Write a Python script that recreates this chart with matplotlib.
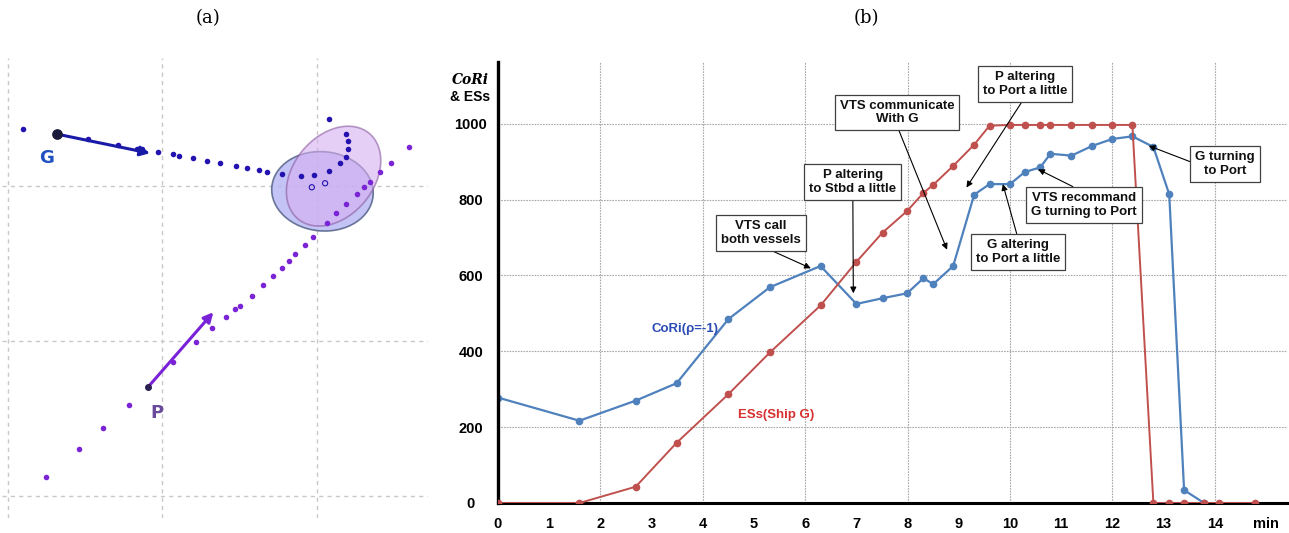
import matplotlib
matplotlib.use("Agg")
import matplotlib.pyplot as plt
from matplotlib.patches import Ellipse

# ---- panel (b): CoRi and ESs of ship G over time ----
minutes = [0, 1.59, 2.69, 3.49, 4.50, 5.31, 6.30, 7.00, 7.51, 7.99, 8.31, 8.50, 8.89, 9.30,
           9.60, 10.00, 10.29, 10.59, 10.79, 11.20, 11.61, 12.00, 12.39, 12.80, 13.11,
           13.40, 13.79, 14.09, 14.79]
cori = [278, 217, 270, 316, 485, 569, 625, 525, 540, 553, 593, 577, 625, 813,
        841, 841, 873, 885, 921, 916, 942, 960, 967, 939, 814,
        34, 0, 0, 0]
ess = [0, 0, 43, 159, 287, 397, 521, 636, 713, 770, 818, 839, 889, 945,
       995, 997, 997, 997, 997, 997, 997, 997, 997, 0, 0,
       0, 0, 0, 0]
x_labels = [str(i) for i in range(15)] + ['min']
y_ticks = [0, 200, 400, 600, 800, 1000]

# text, arrow target (min, value), box centre (min, value), arrow start on box
notes = [
    ("VTS call\nboth vessels", (6.11, 619), (5.14, 712), (0.5, 0)),
    ("P altering\nto Stbd a little", (6.94, 553), (6.93, 847), (0.5, 0)),
    ("VTS communicate\nWith G", (8.77, 668), (7.79, 1030), (0.5, 0)),
    ("P altering\nto Port a little", (9.15, 832), (10.29, 1104), (0.5, 0)),
    ("G altering\nto Port a little", (9.86, 841), (10.16, 662), (0.5, 1)),
    ("VTS recommand\nG turning to Port", (10.55, 880), (11.44, 786), (0.5, 1)),
    ("G turning\nto Port", (12.71, 942), (14.20, 895), (0, 0.5)),
]

# ---- panel (a): tracks in grid units ----
g_x = [0.101, 0.518, 0.716, 0.835, 0.867, 0.975, 1.068, 1.109, 1.197, 1.292, 1.374, 1.478,
       1.551, 1.628, 1.680, 1.773, 1.896, 1.984, 2.080, 2.151, 2.188, 2.205, 2.201, 2.188, 2.082]
g_y = [2.368, 2.302, 2.265, 2.240, 2.240, 2.222, 2.205, 2.194, 2.180, 2.164, 2.147, 2.132,
       2.119, 2.104, 2.093, 2.078, 2.067, 2.072, 2.099, 2.147, 2.190, 2.238, 2.293, 2.337, 2.434]
p_x = [0.248, 0.461, 0.619, 0.785, 1.068, 1.217, 1.322, 1.413, 1.473, 1.504, 1.579, 1.652,
       1.715, 1.773, 1.819, 1.860, 1.924, 1.978, 2.065, 2.125, 2.190, 2.259, 2.306, 2.345,
       2.412, 2.479, 2.595]
p_y = [0.123, 0.302, 0.439, 0.588, 0.862, 0.991, 1.081, 1.156, 1.204, 1.225, 1.290, 1.359,
       1.419, 1.473, 1.518, 1.559, 1.620, 1.673, 1.760, 1.824, 1.884, 1.949, 1.992, 2.028,
       2.089, 2.147, 2.251]
ship_g = (0.321, 2.335)
ship_g_head = (0.921, 2.212)
ship_p = (0.910, 0.704)
ship_p_head = (1.331, 1.185)
cpa_x = [1.968, 2.054]
cpa_y = [1.992, 2.018]

G_COL = '#2311b0'
P_COL = '#7a24d6'

fig = plt.figure(figsize=(12.89, 5.33), dpi=100)


def fx(px):
    return px / 1289


def fy(py):
    return 1 - py / 533


# ================= (a) =================
axa = fig.add_axes([fx(2), fy(518), fx(426), 460 / 533])
axa.set_xlim(-0.037, 2.72)
axa.set_ylim(-0.144, 2.827)
for s in axa.spines.values():
    s.set_visible(False)
axa.set_xticks([])
axa.set_yticks([])
for v in [0, 1, 2]:
    axa.axvline(v, color='#c8c8c8', lw=1, ls=(0, (3, 3)), zorder=0)
    axa.axhline(v, color='#c8c8c8', lw=1, ls=(0, (3, 3)), zorder=0)

axa.add_patch(Ellipse((2.037, 1.966), 0.658, 0.512, angle=-5,
                      facecolor='#b4b4f4', edgecolor='#4a5a80', lw=1.2, alpha=0.8, zorder=1))
axa.add_patch(Ellipse((2.109, 2.064), 0.72, 0.52, angle=50,
                      facecolor='#d6b0f0', edgecolor='#8a5aa0', lw=1.2, alpha=0.6, zorder=2))

axa.scatter(g_x, g_y, s=16, color=G_COL, zorder=3, linewidths=0)
axa.scatter(p_x, p_y, s=16, color=P_COL, zorder=3, linewidths=0)
axa.scatter(cpa_x, cpa_y, s=14, facecolors='none', edgecolors=G_COL, lw=0.8, zorder=4)

axa.annotate('', xy=ship_g_head, xytext=ship_g,
             arrowprops=dict(arrowstyle='-|>', color='#1a1aa8', lw=2.2,
                             mutation_scale=14, shrinkA=0, shrinkB=0), zorder=5)
axa.annotate('', xy=ship_p_head, xytext=ship_p,
             arrowprops=dict(arrowstyle='-|>', color='#7a22d8', lw=2.2,
                             mutation_scale=14, shrinkA=0, shrinkB=0), zorder=5)
axa.scatter([ship_g[0]], [ship_g[1]], s=45, color='#1a1a3a', zorder=6)
axa.scatter([ship_p[0]], [ship_p[1]], s=16, color='#2a1f50', zorder=6)
axa.text(0.25, 2.18, 'G', color='#2050c0', fontsize=13, fontweight='bold',
         ha='center', va='center', family='DejaVu Sans')
axa.text(0.965, 0.535, 'P', color='#6a4a9a', fontsize=13, fontweight='bold',
         ha='center', va='center', family='DejaVu Sans')

# ================= (b) =================
axb = fig.add_axes([fx(498), fy(503), fx(1287 - 498), (503 - 62) / 533])
axb.set_xlim(0, 15.41)
axb.set_ylim(0, 1163)
for side in ['top', 'right']:
    axb.spines[side].set_visible(False)
axb.spines['left'].set_linewidth(2.4)
axb.spines['bottom'].set_linewidth(2.2)

for v in range(2, 15, 2):
    axb.axvline(v, color='#a8a8a8', lw=0.8, ls=(0, (1.5, 1)), zorder=0)
for v in y_ticks[1:]:
    axb.axhline(v, color='#a8a8a8', lw=0.8, ls=(0, (1.5, 1)), zorder=0)

axb.plot(minutes, ess, '-o', color='#c0504d', lw=1.4, ms=4.5, zorder=3)
axb.plot(minutes[:27], cori[:27], '-o', color='#4f81bd', lw=1.6, ms=4.5, zorder=2)

axb.set_xticks(range(16))
axb.set_xticklabels(x_labels, fontsize=10.5, fontweight='bold', family='Liberation Sans')
axb.set_yticks(y_ticks)
axb.set_yticklabels([str(v) for v in y_ticks], fontsize=10.5, fontweight='bold',
                    family='Liberation Sans')
axb.tick_params(axis='x', length=0, pad=10)
axb.tick_params(axis='y', length=0, pad=19.5)
for lab in axb.get_yticklabels():
    lab.set_horizontalalignment('center')

axb.text(3.65, 459, 'CoRi(\u03c1=-1)', color='#2b4bb5', fontsize=9.5, fontweight='semibold',
         family='Liberation Sans', ha='center', va='center')
axb.text(5.43, 232, 'ESs(Ship G)', color='#d83030', fontsize=9.5, fontweight='semibold',
         family='Liberation Sans', ha='center', va='center')

for text, point, box, rel in notes:
    axb.annotate(text, xy=point, xytext=box, textcoords='data',
                 ha='center', va='center', multialignment='center',
                 fontsize=9.5, fontweight='bold', family='Liberation Sans', color='#111111',
                 bbox=dict(boxstyle='square,pad=0.38', facecolor='white',
                           edgecolor='#404040', lw=0.9),
                 arrowprops=dict(arrowstyle='-|>', color='black', lw=0.8,
                                 mutation_scale=9, shrinkA=0, shrinkB=0, relpos=rel),
                 zorder=6)

fig.text(fx(470), fy(80), 'CoRi', fontsize=10, fontstyle='italic', fontweight='bold',
         family='DejaVu Serif', ha='center', va='center')
fig.text(fx(470), fy(97), '& ESs', fontsize=10, fontweight='bold',
         family='Liberation Sans', ha='center', va='center')

fig.text(fx(208), fy(18), '(a)', fontsize=13, family='DejaVu Serif', ha='center', va='center')
fig.text(fx(866), fy(18), '(b)', fontsize=13, family='DejaVu Serif', ha='center', va='center')

fig.savefig('out.png', dpi=100)
